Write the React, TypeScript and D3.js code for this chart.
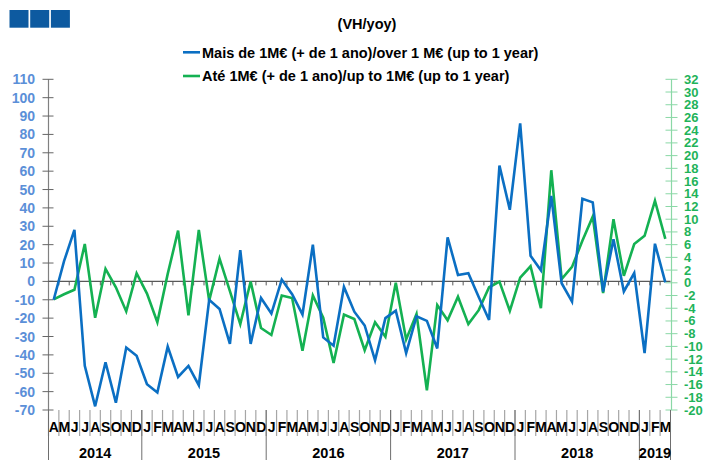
import React from "react";
import * as d3 from "d3";

// monthly yoy rates, Apr 2014 .. Mar 2019
const over1M = [
  -10, 11, 28, -46, -68, -44, -66, -36, -40.5, -56, -60.5, -35.5, -52, -46, -56.5,
  -10, -15, -34, 17, -34, -9, -17.5, 1, -7, -18, 20, -30.5, -35, -3, -16.5,
  -24, -43, -20, -16, -39, -19, -21.5, -36.5, 24, 3.5, 4.5, -8.5, -21, 63, 39,
  86, 14, 6, 46.5, -1, -11, 45, 43, -5.5, 23, -5.5, 4.5, -39, 20.5, -0.5,
];
const upTo1M = [
  -2.6, -1.8, -1.1, 6.1, -5.5, 2.2, -0.7, -4.5, 1.5, -1.7, -6.2, 1.4, 8.2, -5.1, 8.3,
  -2.8, 3.8, -1.3, -6.5, 0.2, -7.1, -8.2, -2.0, -2.4, -10.7, -2.0, -5.5, -12.6, -5.0, -5.7,
  -10.6, -6.2, -8.5, 0, -8.9, -4.9, -16.9, -3.5, -5.9, -2.2, -6.5, -4.3, -0.7, 0.2, -4.4,
  0.8, 2.6, -4.0, 17.7, 0.6, 2.5, 6.6, 10.4, -1.6, 10.0, 1.1, 6.1, 7.4, 12.9, 6.9,
];
const monthInitials = ["J", "F", "M", "A", "M", "J", "J", "A", "S", "O", "N", "D"];
const years = ["2014", "2015", "2016", "2017", "2018", "2019"];
const firstMonth = 3; // April
const leftTicks = d3.range(-70, 111, 10);
const rightTicks = d3.range(-20, 33, 2);
const seriesNames = [
  "Mais de 1M€ (+ de 1 ano)/over 1 M€ (up to 1 year)",
  "Até 1M€ (+ de 1 ano)/up to 1M€ (up to 1 year)",
];

const BLUE = "#0b6fc3";
const GREEN = "#14b152";
const FONT = "'Liberation Sans', Arial, sans-serif";

export default function App() {
  const width = 705;
  const height = 460;
  const left = 48.5;
  const right = 670.5;
  const top = 79.3;
  const bottom = 410;

  const idx = d3.range(over1M.length);
  const x = d3.scaleBand<number>().domain(idx).range([left, right]);
  const bw = x.bandwidth();
  const cx = (i: number) => (x(i) as number) + bw / 2;
  const yL = d3.scaleLinear().domain([-70, 110]).range([bottom, top]);
  const yR = d3.scaleLinear().domain([-20, 32]).range([bottom, top]);

  const lineL = d3.line<number>().x((_, i) => cx(i)).y((d) => yL(d));
  const lineR = d3.line<number>().x((_, i) => cx(i)).y((d) => yR(d));

  const monthLabels = idx.map((i) => monthInitials[(firstMonth + i) % 12]);
  // month index where each year starts / ends
  const yearStart = years.map((_, k) => Math.max(0, k * 12 - firstMonth));
  const yearEnd = years.map((_, k) => Math.min(idx.length, (k + 1) * 12 - firstMonth));

  const y0 = yL(0);

  return (
    <svg width={width} height={height} style={{ position: "absolute", left: 0, top: 0, fontFamily: FONT }}>
      <rect width={width} height={height} fill="#fff" />
      {[0, 1, 2].map((k) => (
        <rect key={k} x={9.5 + k * 20.7} y={10} width={19} height={17.7} fill="#0d5aa0" />
      ))}
      <text x={367} y={29} textAnchor="middle" fontSize={14.5} fontWeight="bold">(VH/yoy)</text>
      {seriesNames.map((s, k) => (
        <g key={s}>
          <line x1={183} x2={200} y1={52.3 + k * 23.7} y2={52.3 + k * 23.7} stroke={k ? GREEN : BLUE} strokeWidth={2.6} />
          <text x={202} y={57.5 + k * 23.7} fontSize={14.5} fontWeight="bold">{s}</text>
        </g>
      ))}

      {/* left axis */}
      <line x1={left} x2={left} y1={top} y2={bottom} stroke="#808080" strokeWidth={1.2} />
      {leftTicks.map((t) => (
        <g key={t}>
          <line x1={left - 6} x2={left + 5} y1={yL(t)} y2={yL(t)} stroke="#666" strokeWidth={1} />
          <text x={35} y={yL(t) + 5} textAnchor="end" fontSize={14} fontWeight="bold" fill="#5b8fd8">{t}</text>
        </g>
      ))}

      {/* right axis */}
      <line x1={right + 1} x2={right + 1} y1={top} y2={bottom} stroke="#8ad8a6" strokeWidth={1.2} />
      {rightTicks.map((t) => (
        <g key={t}>
          <line x1={right - 5} x2={right + 7} y1={yR(t)} y2={yR(t)} stroke="#8ad8a6" strokeWidth={1} />
          <text x={684} y={yR(t) + 4.5} fontSize={13} fontWeight="bold" fill="#1fb35a">{t}</text>
        </g>
      ))}

      {/* zero line with month ticks */}
      <line x1={left} x2={right} y1={y0} y2={y0} stroke="#595959" strokeWidth={1.3} />
      {idx.slice(1).map((i) => (
        <line key={i} x1={x(i)} x2={x(i)} y1={y0} y2={y0 + 4} stroke="#595959" strokeWidth={1} />
      ))}

      {/* category axis at the bottom */}
      {idx.map((i) => (
        <line key={i} x1={x(i)} x2={x(i)} y1={bottom} y2={bottom + 26} stroke="#a6a6a6" strokeWidth={1.2} />
      ))}
      {monthLabels.map((m, i) => (
        <text key={i} x={cx(i)} y={bottom + 22} textAnchor="middle" fontSize={14} fontWeight="bold" letterSpacing={-0.5}>{m}</text>
      ))}
      {years.map((yr, k) => {
        const x0 = x(yearStart[k]) as number;
        const x1 = k === years.length - 1 ? right : (x(yearEnd[k]) as number);
        return (
          <g key={yr}>
            <line x1={x0} x2={x0} y1={bottom} y2={height} stroke="#6e6e6e" strokeWidth={1} />
            {k === years.length - 1 && <line x1={x1} x2={x1} y1={bottom} y2={height} stroke="#6e6e6e" strokeWidth={1} />}
            <text x={(x0 + x1) / 2} y={bottom + 48} textAnchor="middle" fontSize={14.5} fontWeight="bold">{yr}</text>
          </g>
        );
      })}

      <path d={lineR(upTo1M) as string} fill="none" stroke={GREEN} strokeWidth={2.6} strokeLinejoin="miter" />
      <path d={lineL(over1M) as string} fill="none" stroke={BLUE} strokeWidth={2.6} strokeLinejoin="miter" />
    </svg>
  );
}
